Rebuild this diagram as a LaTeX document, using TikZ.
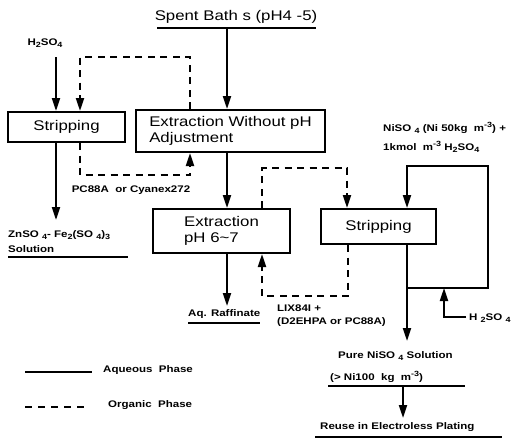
\documentclass[tikz,border=0pt]{standalone}
\usepackage{fontspec}
\setmainfont[FakeStretch=1.2]{Liberation Sans}
\usetikzlibrary{arrows.meta}
\newcommand\lo[1]{\raisebox{-0.35ex}{\fontsize{7.5}{7.5}\selectfont #1}}
\newcommand\hi[1]{\raisebox{0.85ex}{\fontsize{7.5}{7.5}\selectfont #1}}
\tikzset{
  boxnode/.style={draw, line width=2pt, inner sep=0pt, font=\fontsize{14}{16.5}\selectfont},
  lab/.style={inner sep=0pt, font=\fontsize{9.6}{11}\selectfont\bfseries},
  aq/.style={line width=2pt, -{Triangle[length=13pt,width=8pt]}},
  org/.style={line width=2.1pt, dash pattern=on 7pt off 5.5pt, -{Triangle[length=13pt,width=8pt]}},
  uline/.style={line width=2pt},
}
\begin{document}
\begin{tikzpicture}[x=1pt,y=-1pt]
\useasboundingbox (0,0) rectangle (518,439);
% boxes
\node[boxnode, minimum width=117pt, minimum height=30pt] (stripL) at (66.5,127) {Stripping};
\node[boxnode, minimum width=189pt, minimum height=42pt, align=left] (extA) at (230.5,131) {Extraction Without pH\\Adjustment};
\node[boxnode, minimum width=137pt, minimum height=44pt, align=left] (extB) at (221.5,231) {Extraction\\pH 6\textasciitilde 7};
\node[boxnode, minimum width=115pt, minimum height=35pt] (stripR) at (378.5,226.5) {Stripping};
% title
\node[inner sep=0pt, font=\fontsize{14}{16}\selectfont] (spent) at (236,17) {Spent Bath s (pH4 -5)};
\coordinate (sp1) at (157,28); \coordinate (sp2) at (316,28);
\draw[uline] (sp1) -- (sp2);
\coordinate (s1) at (227,28);
\draw[aq] (s1) -- (s1 |- extA.north);
\draw[aq] (s1 |- extA.south) -- (s1 |- extB.north);
\coordinate (r1) at (227,306);
\draw[aq] (r1 |- extB.south) -- (r1);
% left H2SO4
\node[lab] (h2l) at (45,43) {H\lo{2}SO\lo{4}};
\coordinate (a1) at (56,57);
\draw[aq] (a1) -- (a1 |- stripL.north);
% dashed top left
\coordinate (oA1) at (190,57); \coordinate (oA2) at (80,57);
\draw[org] (oA1 |- extA.north) -- (oA1) -- (oA2) -- (oA2 |- stripL.north);
% stripping left output
\coordinate (zn) at (56,220);
\draw[aq] (zn |- stripL.south) -- (zn);
\node[lab, anchor=west] (znl) at (8,235) {ZnSO \lo{4}- Fe\lo{2}(SO \lo{4})\lo{3}};
\node[lab, anchor=west] (sol) at (8,249) {Solution};
\coordinate (u1) at (8,257); \coordinate (u2) at (128,257);
\draw[uline] (u1) -- (u2);
% dashed bottom left
\coordinate (oB1) at (80,175); \coordinate (oB2) at (190,175);
\draw[org] (oB1 |- stripL.south) -- (oB1) -- (oB2) -- (oB2 |- extA.south);
\node[lab] (pc) at (131,190) {PC88A\ \ or Cyanex272};
% raffinate
\node[lab, anchor=west] (raf) at (188,314) {Aq. Raffinate};
\coordinate (u3) at (188,323); \coordinate (u4) at (260,323);
\draw[uline] (u3) -- (u4);
% dashed middle
\coordinate (oC1) at (262,168); \coordinate (oC2) at (347,168);
\draw[org] (oC1 |- extB.north) -- (oC1) -- (oC2) -- (oC2 |- stripR.north);
\coordinate (oD1) at (348,296); \coordinate (oD2) at (262,296);
\draw[org] (oD1 |- stripR.south) -- (oD1) -- (oD2) -- (oD2 |- extB.south);
\node[lab, anchor=west] (lix1) at (277,308) {LIX84I +};
\node[lab, anchor=west] (lix2) at (277,322) {(D2EHPA or PC88A)};
% right loop
\node[lab, anchor=west] (ni1) at (383,128) {NiSO \lo{4} (Ni 50kg\ \ m\hi{-3}) +};
\node[lab, anchor=west] (ni2) at (383,147) {1kmol\ \ m\hi{-3} H\lo{2}SO\lo{4}};
\coordinate (L1) at (407,166); \coordinate (L2) at (488,166);
\coordinate (L3) at (488,288); \coordinate (L4) at (407,288);
\draw[aq] (L4) -- (L3) -- (L2) -- (L1) -- (L1 |- stripR.north);
\coordinate (p1) at (407,341);
\draw[aq] (p1 |- stripR.south) -- (p1);
\coordinate (h1) at (466,317); \coordinate (h2) at (444,317);
\draw[aq] (h1) -- (h2) -- (h2 |- L3);
\node[lab, anchor=west] (h2r) at (469,318) {H \lo{2}SO \lo{4}};
% products
\node[lab, anchor=west] (pure) at (338,356) {Pure NiSO \lo{4} Solution};
\node[lab, anchor=west] (ni100) at (330,377) {(> Ni100\ \ kg\ \ m\hi{-3})};
\coordinate (u5) at (328,386); \coordinate (u6) at (465,386);
\draw[uline] (u5) -- (u6);
\coordinate (q1) at (403,386); \coordinate (q2) at (403,418);
\draw[aq] (q1) -- (q2);
\node[lab, anchor=west] (reuse) at (320,427) {Reuse in Electroless Plating};
\coordinate (u7) at (315,437); \coordinate (u8) at (502,437);
\draw[uline] (u7) -- (u8);
% legend
\coordinate (g1) at (25,372); \coordinate (g2) at (92,372);
\draw[line width=2pt] (g1) -- (g2);
\node[lab, anchor=west] (aql) at (103,370) {Aqueous\ \ Phase};
\coordinate (g3) at (25,407); \coordinate (g4) at (88,407);
\draw[line width=2.1pt, dash pattern=on 7pt off 6pt] (g3) -- (g4);
\node[lab, anchor=west] (orl) at (108,405) {Organic\ \ Phase};
\end{tikzpicture}
\end{document}
